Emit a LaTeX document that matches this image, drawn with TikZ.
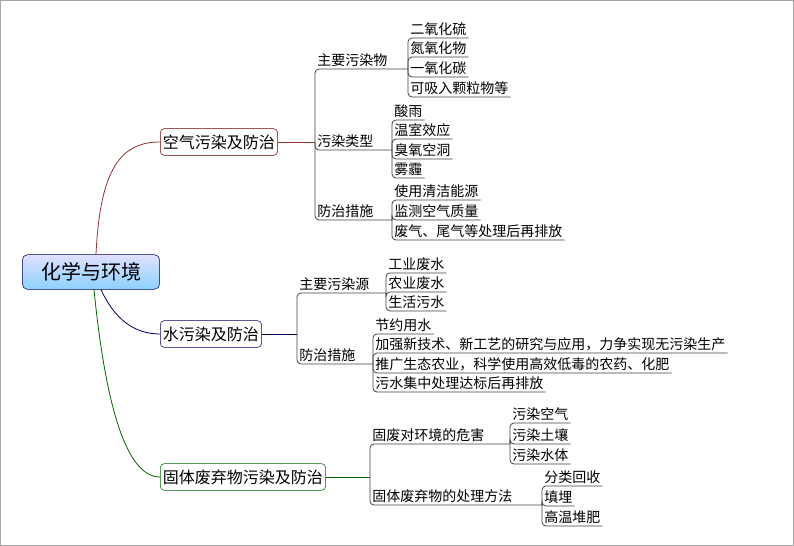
\documentclass[tikz,border=0pt]{standalone}
\usepackage{fontspec}
\setmainfont{Noto Sans CJK SC}
\begin{document}
\begin{tikzpicture}[x=0.75pt,y=-0.75pt,
	root/.style={draw=blue!45!black, rounded corners=4pt, top color=blue!12, bottom color=blue!40!cyan!45, minimum width=103pt, minimum height=26pt, font=\fontsize{15}{17}\selectfont},
	topic/.style={draw=#1, rounded corners=3pt, fill=white, inner sep=2pt, minimum height=20pt, anchor=west, font=\fontsize{12}{14}\selectfont},
	mid/.style={anchor=south west, inner sep=1.5pt, font=\fontsize{10.5}{12}\selectfont},
	leaf/.style={anchor=south west, inner sep=1.5pt, font=\fontsize{10.5}{12}\selectfont},
	rc/.style={rounded corners=3pt, draw=black!75, line width=0.6pt},
	airline/.style={draw=red!45!black!80, line width=0.6pt},
	waterline/.style={draw=blue!40!black, line width=0.6pt},
	solidline/.style={draw=green!40!black, line width=0.6pt}]
	\useasboundingbox (0,0) rectangle (794,546);
	\draw[black!35] (0.5,0.5) rectangle (793.5,545.5);

	\node[root] (root) at (91,272) {化学与环境};

	\node[topic=red!45!black] (air) at (160,142) {空气污染及防治};
	\node[topic=blue!40!black] (water) at (160,334) {水污染及防治};
	\node[topic=green!40!black] (solid) at (160,477) {固体废弃物污染及防治};

	\draw[airline] (root.north) ++(5,0) .. controls (100,170) and (120,142) .. (air.west);
	\draw[waterline] (root.south) ++(10,0) .. controls (115,320) and (135,334) .. (water.west);
	\draw[solidline] (root.south) ++(3,0) .. controls (105,400) and (125,477) .. (solid.west);

	% air
	\coordinate (ja) at (315,142);
	\node[mid] (a1) at (315,69) {主要污染物};
	\node[mid] (a2) at (315,150) {污染类型};
	\node[mid] (a3) at (315,220) {防治措施};
	\coordinate (ka1) at (408,69);
	\coordinate (ka2) at (392,150);
	\coordinate (ka3) at (392,220);
	\draw[airline] (air.east) -- (ja);
	\foreach \k in {ka1,ka2,ka3} \draw[rc] (ja) |- (\k);

	\node[leaf] (a11) at (408,38) {二氧化硫};
	\node[leaf] (a12) at (408,57) {氮氧化物};
	\node[leaf] (a13) at (408,77) {一氧化碳};
	\node[leaf] (a14) at (408,97) {可吸入颗粒物等};
	\foreach \n in {a11,a12,a13,a14} \draw[rc] (ka1) |- (\n.south east);

	\node[leaf] (a21) at (392,120) {酸雨};
	\node[leaf] (a22) at (392,139) {温室效应};
	\node[leaf] (a23) at (392,159) {臭氧空洞};
	\node[leaf] (a24) at (392,178) {雾霾};
	\foreach \n in {a21,a22,a23,a24} \draw[rc] (ka2) |- (\n.south east);

	\node[leaf] (a31) at (392,200) {使用清洁能源};
	\node[leaf] (a32) at (392,220) {监测空气质量};
	\node[leaf] (a33) at (392,240) {废气、尾气等处理后再排放};
	\foreach \n in {a31,a32,a33} \draw[rc] (ka3) |- (\n.south east);

	% water
	\coordinate (jw) at (297,334);
	\node[mid] (w1) at (297,293) {主要污染源};
	\node[mid] (w2) at (297,364) {防治措施};
	\coordinate (kw1) at (386,293);
	\coordinate (kw2) at (373,364);
	\draw[waterline] (water.east) -- (jw);
	\foreach \k in {kw1,kw2} \draw[rc] (jw) |- (\k);

	\node[leaf] (w11) at (386,273) {工业废水};
	\node[leaf] (w12) at (386,292) {农业废水};
	\node[leaf] (w13) at (386,311) {生活污水};
	\foreach \n in {w11,w12,w13} \draw[rc] (kw1) |- (\n.south east);

	\node[leaf] (w21) at (373,334) {节约用水};
	\node[leaf] (w22) at (373,353) {加强新技术、新工艺的研究与应用，力争实现无污染生产};
	\node[leaf] (w23) at (373,373) {推广生态农业，科学使用高效低毒的农药、化肥};
	\node[leaf] (w24) at (373,392) {污水集中处理达标后再排放};
	\foreach \n in {w21,w22,w23,w24} \draw[rc] (kw2) |- (\n.south east);

	% solid
	\coordinate (js) at (370,477);
	\node[mid] (s1) at (370,444) {固废对环境的危害};
	\node[mid] (s2) at (370,505) {固体废弃物的处理方法};
	\coordinate (ks1) at (510,444);
	\coordinate (ks2) at (542,505);
	\draw[solidline] (solid.east) -- (js);
	\foreach \k in {ks1,ks2} \draw[rc] (js) |- (\k);

	\node[leaf] (s11) at (510,423) {污染空气};
	\node[leaf] (s12) at (510,444) {污染土壤};
	\node[leaf] (s13) at (510,464) {污染水体};
	\foreach \n in {s11,s12,s13} \draw[rc] (ks1) |- (\n.south east);

	\node[leaf] (s21) at (542,486) {分类回收};
	\node[leaf] (s22) at (542,506) {填埋};
	\node[leaf] (s23) at (542,526) {高温堆肥};
	\foreach \n in {s21,s22,s23} \draw[rc] (ks2) |- (\n.south east);
\end{tikzpicture}
\end{document}
